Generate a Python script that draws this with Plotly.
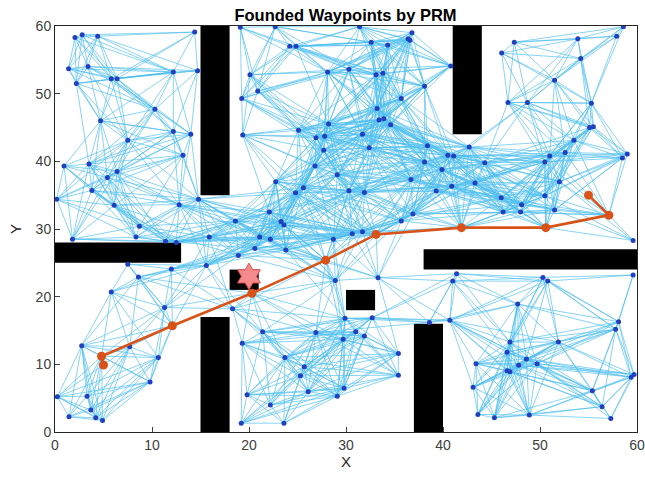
import numpy as np
import plotly.graph_objects as go

# Roadmap nodes (x, y)
node_x = [2.06,2.8,4.4,14.4,1.4,3.4,2.2,5.8,6.4,12.2,14.7,10.3,4.7,12.2,14.0,7.5,13.2,
          0.93,3.5,5.4,6.4,3.8,0.17,6.1,12.8,14.8,18.6,8.7,1.8,8.35,11.4,12.5,15.9,18.9,7.5,12.0,15.6,8.6,
          5.8,11.3,2.75,7.7,10.65,9.8,0.24,3.3,3.7,1.44,4.2,4.9,18.3,19.3,19.2,19.8,
          28.9,33.3,29.9,32.7,38.6,21.4,26.9,31.0,31.9,29.7,23.7,35.4,25.7,25.3,35.4,29.8,26.1,29.1,22.2,23.6,
          41.0,50.8,47.7,40.7,58.1,57.8,46.9,51.9,46.6,48.6,43.4,49.7,47.8,46.6,46.9,59.7,59.4,43.1,55.4,56.4,43.6,45.3,48.9,57.3,
          40.5,41.1,44.3,51.0,52.6,58.5,59.0,50.5,39.9,52.0,39.3,40.9,43.3,46.0,48.1,50.5,46.2,48.0,51.5,59.6,41.4,50.3,59.6,
          58.6,57.9,47.35,53.9,46.05,54.2,40.8,51.5,46.7,48.7,55.3,55.1,55.5,53.5,42.7,
          19.1,22.7,31.4,36.8,36.4,36.6,24.2,24.85,32.6,34.3,20.1,28.1,30.3,33.1,33.8,38.1,20.9,19.25,35.7,33.2,28.2,25.1,33.4,33.9,34.6,26.9,27.8,31.7,19.35,27.7,32.4,38.4,
          38.1,26.8,29.1,36.7,22.75,24.8,25.6,30.3,31.9,36.9,35.7,22.1,23.3,23.6,21.1,22.2,20.6,23.8,28.7,30.65,31.7]
node_y = [58.3,58.7,58.5,59.1,53.7,54.0,51.5,52.2,52.2,53.2,53.4,47.7,46.0,44.4,44.0,43.1,40.9,
          39.3,39.6,37.6,38.5,35.7,34.4,33.5,33.6,34.4,31.2,30.4,28.5,28.8,28.2,28.0,28.8,26.1,24.8,24.1,24.6,22.9,
          20.7,18.4,12.75,12.6,11.0,7.4,5.2,5.3,3.25,2.26,2.1,1.7,18.2,13.1,1.3,5.5,
          22.4,22.8,16.8,16.9,16.2,14.8,14.7,14.8,14.2,13.7,11.0,11.6,9.65,8.3,8.4,6.45,5.95,5.3,4.0,1.3,
          22.3,22.3,18.9,16.5,16.3,15.2,13.3,13.3,11.8,10.8,10.1,10.1,9.85,9.05,8.9,8.5,8.1,6.6,6.1,3.75,2.6,2.1,2.5,2.0,
          40.9,40.8,39.8,40.8,41.3,40.5,41.1,39.9,38.8,37.0,35.6,36.3,36.8,34.6,33.6,34.9,32.5,32.5,32.8,28.3,23.4,22.85,23.2,
          59.9,58.5,57.6,58.1,56.0,55.2,54.1,52.0,48.7,48.7,48.6,45.0,45.1,43.1,42.1,
          59.8,59.9,59.9,59.0,58.1,57.9,57.0,57.0,57.6,57.2,52.8,53.2,53.6,52.8,53.0,51.1,50.4,49.3,49.3,47.8,45.5,44.6,46.1,46.3,45.4,43.5,43.7,44.0,43.9,41.65,42.0,42.3,
          39.9,39.3,38.0,37.3,37.0,35.35,36.1,35.65,35.4,32.2,31.2,32.5,31.1,30.6,28.8,28.5,27.1,26.9,28.5,29.3,29.6]

# Found path (start -> goal)
path_x = [5.0, 4.8, 12.1, 20.3, 27.9, 33.1, 41.9, 50.6, 57.1, 55.0]
path_y = [9.9, 11.2, 15.7, 20.5, 25.4, 29.2, 30.2, 30.2, 32.05, 35.0]

# Star marker
star_x = [20.0]
star_y = [23.0]

# Obstacles: x0, x1, y0, y1
obs_x0 = [15, 0, 18, 15, 30, 37, 38, 41]
obs_x1 = [18, 13, 21, 18, 33, 40, 60, 44]
obs_y0 = [35, 25, 21, 0, 18, 0, 24, 44]
obs_y1 = [60, 28, 24, 17, 21, 16, 27, 60]

CONNECT_DIST = 12.0

all_x = np.array(node_x + path_x[1:-1])
all_y = np.array(node_y + path_y[1:-1])

def blocked(xa, ya, xb, yb):
    n = int(np.hypot(xb - xa, yb - ya) / 0.15) + 2
    t = np.linspace(0, 1, n)
    px = xa + (xb - xa) * t
    py = ya + (yb - ya) * t
    for a, b, c, d in zip(obs_x0, obs_x1, obs_y0, obs_y1):
        if np.any((px > a) & (px < b) & (py > c) & (py < d)):
            return True
    return False

ex, ey = [], []
N = len(all_x)
for i in range(N):
    for j in range(i + 1, N):
        d = np.hypot(all_x[i] - all_x[j], all_y[i] - all_y[j])
        if d <= CONNECT_DIST and not blocked(all_x[i], all_y[i], all_x[j], all_y[j]):
            ex += [all_x[i], all_x[j], None]
            ey += [all_y[i], all_y[j], None]

fig = go.Figure()
fig.add_trace(go.Scatter(x=ex, y=ey, mode='lines',
                         line=dict(color='rgba(77,190,238,0.95)', width=0.7),
                         hoverinfo='skip', showlegend=False))
fig.add_trace(go.Scatter(x=node_x, y=node_y, mode='markers',
                         marker=dict(color='#2040c0', size=5),
                         showlegend=False))
fig.add_trace(go.Scatter(x=path_x, y=path_y, mode='lines+markers',
                         line=dict(color='#D95319', width=2.6),
                         marker=dict(color='#D95319', size=9),
                         showlegend=False))
fig.add_trace(go.Scatter(x=star_x, y=star_y, mode='markers',
                         marker=dict(symbol='hexagram', size=20, color='#F48A8A',
                                     line=dict(color='#E05050', width=1)),
                         showlegend=False))

shapes = []
for a, b, c, d in zip(obs_x0, obs_x1, obs_y0, obs_y1):
    shapes.append(dict(type='rect', x0=a, x1=b, y0=c, y1=d, xref='x', yref='y',
                       fillcolor='black', line=dict(width=0), layer='below'))

axis_common = dict(range=[0, 60], dtick=10, ticks='inside', ticklen=5,
                   showline=True, mirror=True, linecolor='#262626', linewidth=1,
                   showgrid=False, zeroline=False, automargin=False,
                   tickfont=dict(size=14, color='#404040'))

fig.update_layout(
    width=645, height=481,
    margin=dict(l=55, r=8, t=26, b=49, autoexpand=False),
    plot_bgcolor='white', paper_bgcolor='white',
    font=dict(family='Liberation Sans, Arial, sans-serif', color='#262626'),
    title=dict(text='<b>Founded Waypoints by PRM</b>', x=0.5357, xanchor='center',
               y=0.969, yanchor='middle', font=dict(size=16.5, color='black')),
    xaxis=dict(title=dict(text='X', font=dict(size=15, color='#262626'), standoff=4), **axis_common),
    yaxis=dict(title=dict(text='Y', font=dict(size=15, color='#262626'), standoff=10), **axis_common),
    shapes=shapes,
)

fig.write_html('out.html', config={'displayModeBar': False},
               post_script="document.body.style.margin='0';document.body.style.overflow='hidden';")
